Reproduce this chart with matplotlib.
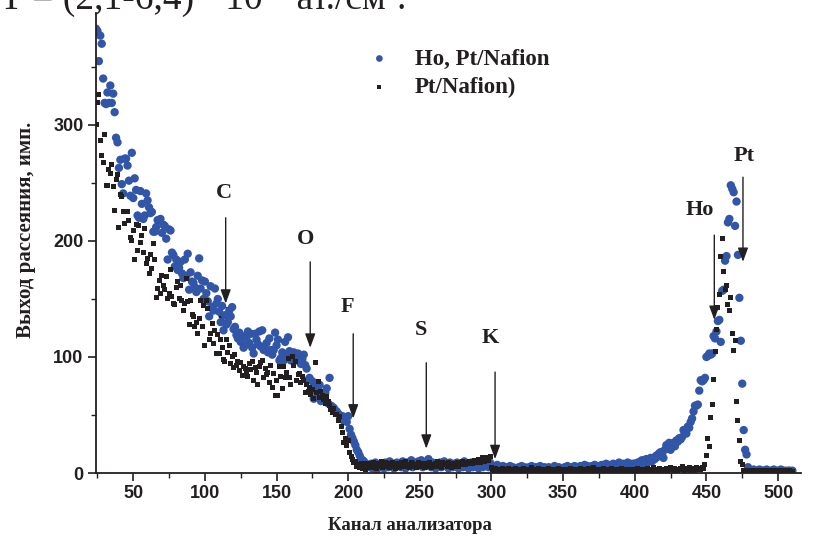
import numpy as np
import matplotlib
matplotlib.use('Agg')
import matplotlib.pyplot as plt
from matplotlib.ticker import MultipleLocator

# Ho, Pt/Nafion (blue circles), one value per channel
ho_start = 24
ho_low = [383, 381, 355, 377, 370, 340, 319, 318, 328, 319, 334, 319, 327, 311, 289, 285,
          263, 270, 249, 241, 271, 271, 265, 252, 239, 276, 237, 254, 244, 222, 220, 243,
          232, 219, 222, 241, 235, 229, 224, 225, 208, 208, 212, 218, 218, 219, 207, 214,
          213, 202, 184, 210, 209, 190, 188, 178, 184, 175, 177, 182, 172, 168, 184, 170,
          189, 158, 173, 165, 164, 160, 156, 170, 185, 159, 166, 150, 165, 155, 148, 135,
          161, 143, 140, 159, 146, 150, 139, 130, 144, 123, 136, 128, 130, 140, 135, 143,
          124, 126, 119, 116, 121, 113, 118, 108, 110, 117, 122, 112, 120, 108, 103, 120,
          115, 111, 122, 109, 123, 106, 107, 112, 104, 116, 106, 102, 106, 121, 110, 115,
          97, 99, 104, 97, 113, 100, 117, 105, 97, 103, 104, 103, 99, 103, 96, 94,
          98, 102, 93, 90, 80, 82, 72, 79, 64, 77, 70, 74, 76, 62, 67, 64,
          69, 73, 60, 82, 58, 57, 56, 54, 53, 51, 50, 47, 49, 45, 48, 44,
          49, 38, 33, 30, 27, 24, 20, 18, 15, 12, 11, 10, 8, 7, 7]
ho_bg = [5, 8, 4, 6, 9, 3, 7, 5, 8, 6, 4, 9, 7, 5, 10, 6, 8, 4, 7, 9,
         6, 8, 5, 10, 7, 4, 9, 6, 8, 11, 5, 7, 9, 6, 10, 8, 11, 5, 7, 9,
         6, 12, 8, 5, 9, 7, 4, 8, 6, 9, 5, 7, 10, 6, 8, 4, 9, 7, 5, 8,
         6, 9, 4, 7, 8, 5, 10, 6, 7, 4, 8, 9, 5, 6, 8, 7, 4, 9, 6, 5, 8, 7, 6, 5, 9,
         6, 4, 5, 3, 7, 4, 5, 3, 6, 4, 2, 5, 3, 6, 4, 5, 2, 4, 3, 5,
         4, 6, 3, 5, 2, 4, 5, 3, 6, 4, 3, 5, 4, 2, 6, 3, 4, 5, 3, 4,
         5, 3, 2, 4, 6, 3, 4, 5, 2, 4, 3, 5, 4, 6, 3, 4, 5, 3, 6, 4,
         5, 4, 6, 3, 5, 7, 4, 6, 5, 3, 6, 4, 7, 5, 6, 4, 5, 7, 6, 5,
         8, 6, 5, 7, 6, 8, 5, 7, 6, 9, 7, 5, 8, 6, 7, 9, 6, 8, 7, 8]
ho_peak = [8, 6, 9, 7, 10, 11, 8, 10, 12, 9, 11, 13, 10, 13, 12, 15, 14, 17, 18, 16,
           13, 20, 24, 22, 26, 20, 24, 26, 23, 28, 27, 30, 29, 31, 37, 36, 34, 40, 39, 44,
           47, 53, 58, 58, 59, 71, 80, 79, 80, 82, 100, 101, 103, 102, 103, 118, 116, 122, 131, 132,
           113, 157, 158, 183, 187, 216, 219, 248, 245, 242, 213, 234, 188, 151, 114, 77, 37, 20, 16, 5, 3]
ho_tail = [2, 1, 3, 2, 1, 2, 3, 1, 2, 2, 1, 3, 2, 1, 2, 2, 3, 1, 2, 1,
           2, 3, 2, 1, 2, 1, 2, 2, 1, 2]

# Pt/Nafion) (black squares), one value per channel
pt_start = 24
pt_low = [300, 319, 326, 287, 274, 268, 292, 248, 248, 262, 258, 266, 247, 226, 253, 257,
          212, 240, 238, 225, 215, 225, 225, 218, 203, 200, 209, 184, 214, 192, 213, 199,
          205, 190, 211, 181, 185, 172, 188, 176, 198, 184, 151, 159, 166, 155, 170, 162,
          158, 169, 150, 155, 175, 152, 146, 145, 160, 165, 150, 162, 149, 140, 146, 168,
          148, 128, 149, 137, 135, 126, 130, 120, 133, 149, 126, 144, 110, 149, 142, 115,
          120, 129, 112, 123, 103, 119, 103, 115, 108, 98, 96, 115, 104, 110, 94, 100,
          91, 102, 93, 96, 88, 95, 84, 92, 90, 87, 83, 94, 89, 96, 80, 91,
          87, 76, 92, 95, 97, 82, 90, 85, 87, 78, 93, 74, 86, 67, 80, 67,
          92, 83, 73, 92, 82, 87, 99, 82, 76, 100, 93, 96, 80, 85, 86, 78,
          83, 80, 69, 76, 70, 74, 68, 72, 64, 95, 69, 79, 65, 70, 67, 63,
          60, 66, 62, 58, 55, 52, 56, 50, 50, 45, 49, 40, 35, 26, 30, 24,
          28, 18, 14, 12, 9, 10, 6, 7, 5, 8, 4, 6, 3, 8, 5]
pt_bg = [6, 8, 5, 9, 7, 4, 8, 6, 10, 5, 7, 9, 6, 8, 5, 7, 9, 6, 4, 8,
         7, 5, 9, 6, 8, 10, 6, 7, 5, 9, 8, 6, 7, 5, 9, 7, 6, 8, 5, 7,
         8, 6, 9, 5, 7, 6, 8, 10, 6, 7, 5, 9, 7, 8, 6, 9, 7, 5, 8, 6,
         7, 9, 6, 8, 7, 10, 8, 7, 9, 8, 10, 9, 8, 11, 9, 10, 12, 9, 11, 13, 10, 12, 13, 11, 14,
         5, 3, 2, 4, 3, 2, 3, 1, 4, 2, 3, 2, 4, 3, 1, 3, 2, 4, 2, 3,
         2, 3, 4, 2, 1, 3, 2, 3, 5, 2, 3, 1, 2, 4, 3, 2, 3, 2, 1, 3,
         4, 2, 3, 2, 3, 1, 2, 4, 3, 2, 3, 2, 1, 3, 2, 4, 2, 3, 2, 1,
         3, 2, 4, 3, 2, 1, 3, 2, 4, 2, 3, 5, 2, 3, 1, 2, 3, 2, 4, 3,
         2, 3, 1, 2, 4, 3, 2, 3, 2, 1, 3, 4, 2, 3, 2, 1, 3, 2, 3, 2,
         3, 2, 4, 3, 2, 1, 3, 2, 3, 4, 2, 3, 2, 5, 3, 2, 3, 4, 2, 3,
         2, 3, 4, 2, 3, 5, 3, 2, 4, 3, 2, 3, 4, 6, 3, 2, 4, 3, 5, 2,
         3, 4, 2, 5, 3, 4, 3, 5, 4]
pt_peak = [7, 15, 30, 23, 48, 59, 81, 105, 124, 143, 154, 187, 202, 174, 158, 162, 145,
           140, 151, 120, 106, 114, 62, 45, 28, 10, 7]
pt_tail = [2, 1, 2, 1, 1, 2, 1, 2, 1, 1, 2, 1, 2, 1, 1, 2, 1, 1, 2, 1,
           1, 2, 1, 2, 1, 1, 2, 1, 1, 2, 1, 1, 2, 1, 1]

# element markers: label, label position, arrow x, arrow top, arrow tip
marks = [('C', 113, 241, 114.5, 220, 146),
         ('O', 170, 202, 173.5, 182, 108),
         ('F', 199.5, 143, 203.5, 120, 47),
         ('S', 250.5, 123, 254.5, 95, 21),
         ('K', 299, 116, 302.5, 87, 12),
         ('Ho', 445.5, 227, 455.5, 205, 132),
         ('Pt', 476, 273, 475.5, 255, 182)]

ho_y = np.array(ho_low + ho_bg + ho_peak + ho_tail)
ho_x = np.arange(ho_start, ho_start + len(ho_y))
pt_y = np.array(pt_low + pt_bg + pt_peak + pt_tail)
pt_x = np.arange(pt_start, pt_start + len(pt_y))

serif = 'Liberation Serif'
sans = 'Liberation Sans'
ink = '#231f20'

fig = plt.figure(figsize=(8.15, 5.42), dpi=100)
ax = fig.add_axes([96 / 815, 69 / 542, 705 / 815, 460 / 542])

# stray duplicate label hidden behind the points
ax.text(114, 135, 'C', fontsize=16, fontweight='bold', family=serif,
        ha='center', va='center', color=ink, zorder=1)

h1 = ax.scatter(ho_x, ho_y, s=36, color='#3155a7', edgecolors='none', zorder=2,
                label='Ho, Pt/Nafion')
h2 = ax.scatter(pt_x, pt_y, s=13, marker='s', color=ink, edgecolors='none', zorder=3,
                label='Pt/Nafion)')

for lab, lx, ly, axx, ytop, ytip in marks:
    ax.text(lx, ly, lab, fontsize=16, fontweight='bold', family=serif,
            ha='center', va='center', color=ink, zorder=5)
    ax.annotate('', xy=(axx, ytip), xytext=(axx, ytop),
                arrowprops=dict(arrowstyle='-|>,head_length=0.6,head_width=0.22',
                                color=ink, lw=1.0, shrinkA=0, shrinkB=0,
                                mutation_scale=14), zorder=5)

ax.set_xlim(24, 516)
ax.set_ylim(0, 396.5)
ax.xaxis.set_major_locator(MultipleLocator(50))
ax.xaxis.set_minor_locator(MultipleLocator(25))
ax.yaxis.set_major_locator(MultipleLocator(100))
ax.yaxis.set_minor_locator(MultipleLocator(50))
for s in ['top', 'right']:
    ax.spines[s].set_visible(False)
for s in ['left', 'bottom']:
    ax.spines[s].set_linewidth(1.3)
    ax.spines[s].set_color(ink)
ax.tick_params(which='major', direction='out', length=6, width=1.2, color=ink, pad=3)
ax.tick_params(which='minor', direction='out', length=3.5, width=1.0, color=ink)
for t in ax.get_xticklabels() + ax.get_yticklabels():
    t.set_family(sans)
    t.set_fontweight('bold')
    t.set_fontsize(13)
    t.set_color(ink)

ax.set_xlabel('Канал анализатора', family=serif, fontweight='bold', fontsize=13.5,
              color=ink, va='center')
ax.xaxis.set_label_coords((410 - 96) / 705, -(525 - 473) / 460)
ax.set_ylabel('Выход рассеяния, имп.', family=serif, fontweight='bold', fontsize=15,
              color=ink, va='center')
ax.yaxis.set_label_coords(-(96 - 26) / 705, (473 - 230) / 460)

leg = ax.legend(handles=[h1, h2], loc='upper left', frameon=False,
                bbox_to_anchor=(345 / 815, 1 - 37 / 542), bbox_transform=fig.transFigure,
                prop={'family': serif, 'weight': 'bold', 'size': 16.5},
                handletextpad=0.55, labelspacing=0.3, borderpad=0, markerscale=0.8)
for t in leg.get_texts():
    t.set_color(ink)

# caption line from the page above, cut by the top edge
fig.text(0.0, 1 - 9 / 542, 'Т = (2,1-6,4) · 10¹⁵ ат./см².', family=serif,
         fontsize=27, va='baseline', ha='left', color=ink)

fig.savefig('out.png', dpi=100)
